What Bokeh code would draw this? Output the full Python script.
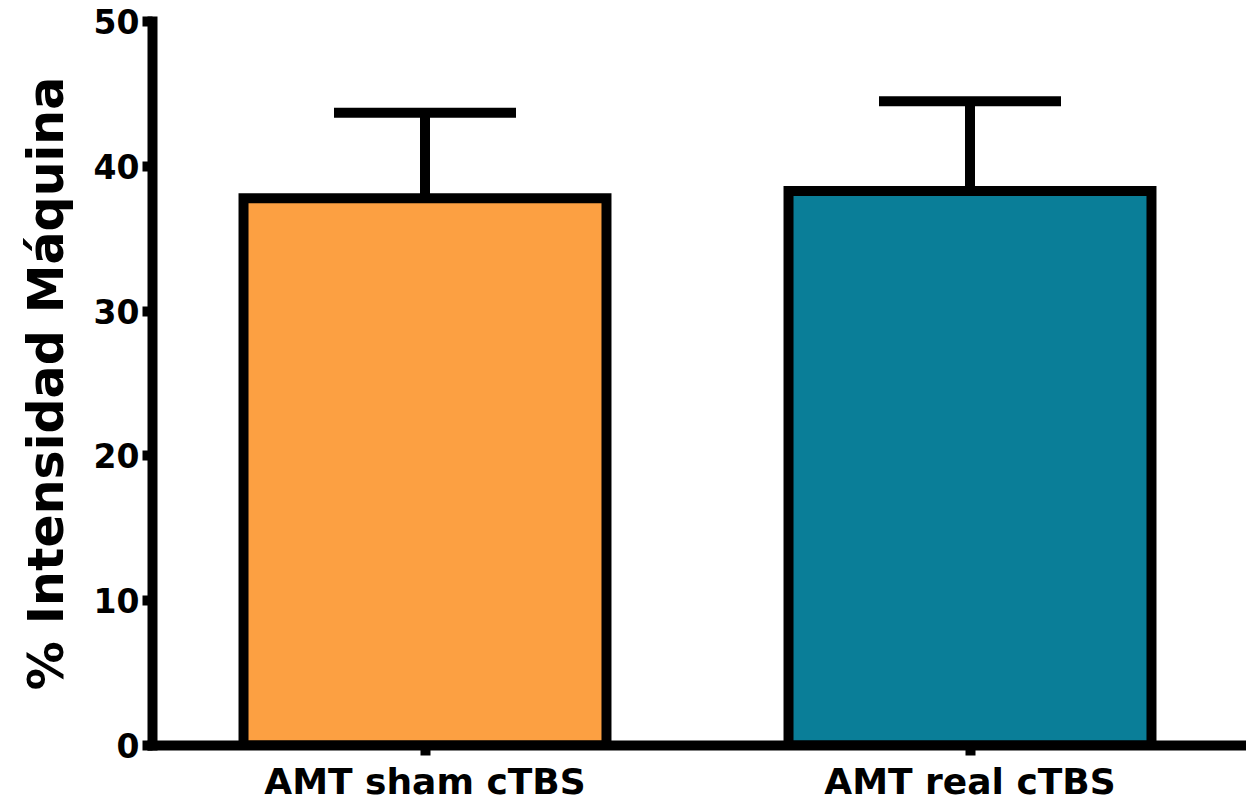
from bokeh.plotting import figure
from bokeh.models import ColumnDataSource, FactorRange, Range1d, FixedTicker, Whisker, TeeHead
from bokeh.embed import file_html
from bokeh.resources import INLINE

categories = ["AMT sham cTBS", "AMT real cTBS"]
means = [37.8, 38.3]
sds = [5.9, 6.2]
colors = ["#FCA042", "#0A7E98"]
y_ticks = [0, 10, 20, 30, 40, 50]

FONT = "DejaVu Sans"

src = ColumnDataSource(dict(
    cat=categories,
    mean=means,
    upper=[m + s for m, s in zip(means, sds)],
    color=colors,
))

p = figure(x_range=FactorRange(factors=categories, range_padding=0),
           y_range=Range1d(0, 50),
           width=1246, height=804,
           output_backend="svg", toolbar_location=None,
           min_border_left=152, min_border_right=4,
           min_border_top=21, min_border_bottom=56)

p.outline_line_color = None
p.xgrid.grid_line_color = None
p.ygrid.grid_line_color = None

w = Whisker(source=src, base="cat", upper="upper", lower="mean",
            line_width=10, line_color="black",
            upper_head=TeeHead(size=182, line_width=10, line_color="black"),
            lower_head=None)
p.add_layout(w)

p.vbar(x="cat", top="mean", bottom=0, width=0.666, source=src,
       fill_color="color", line_color="black", line_width=10,
       line_join="miter")

for ax in (p.xaxis[0], p.yaxis[0]):
    ax.axis_line_width = 10
    ax.axis_line_color = "black"
    ax.axis_line_cap = "square"
    ax.major_tick_line_width = 10
    ax.major_tick_line_color = "black"
    ax.major_tick_in = 0
    ax.major_tick_out = 10
    ax.minor_tick_line_color = None
    ax.major_label_text_font = FONT
    ax.major_label_text_font_style = "bold"
    ax.major_label_text_color = "black"

p.yaxis.ticker = FixedTicker(ticks=y_ticks)
p.yaxis.major_label_text_font_size = "33px"
p.yaxis.major_label_standoff = 3
p.yaxis.axis_label = "% Intensidad Máquina"
p.yaxis.axis_label_text_font = FONT
p.yaxis.axis_label_text_font_style = "bold"
p.yaxis.axis_label_text_font_size = "49px"
p.yaxis.axis_label_text_color = "black"
p.yaxis.axis_label_standoff = 16

p.xaxis.major_label_text_font_size = "36px"
p.xaxis.major_label_standoff = 5

open("out.html", "w").write(file_html(p, INLINE))
